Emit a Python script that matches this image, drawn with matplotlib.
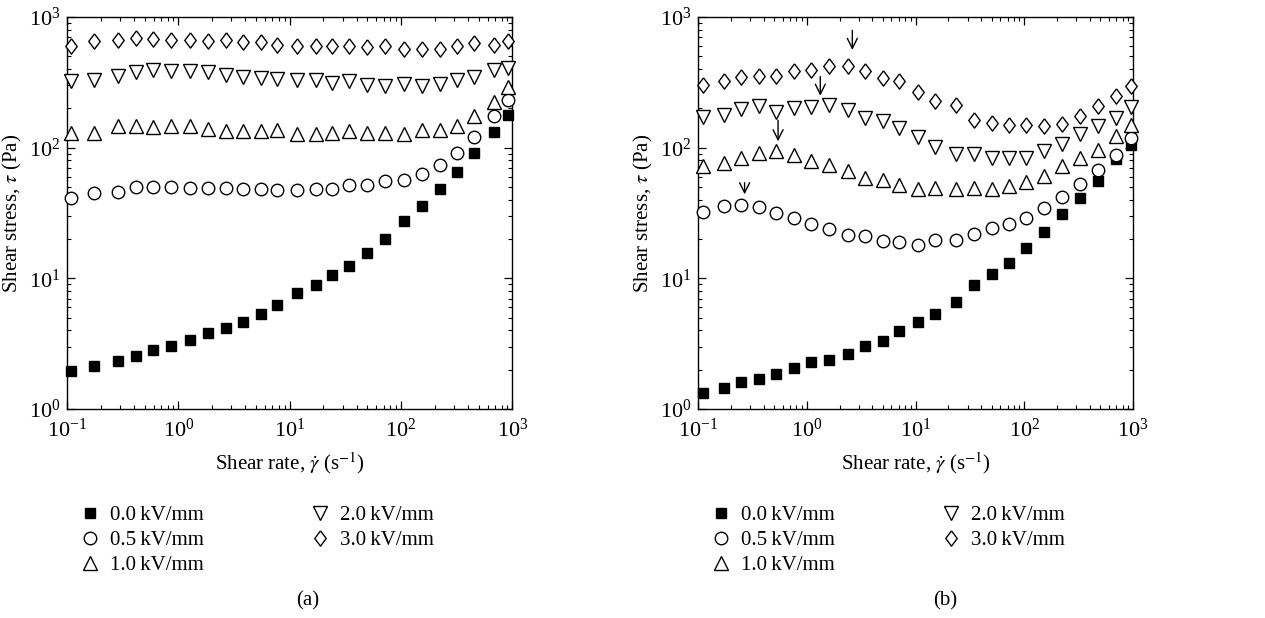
import numpy as np
import matplotlib
matplotlib.use("Agg")
import matplotlib.pyplot as plt

plt.rcParams['font.family'] = ['Liberation Serif', 'DejaVu Serif']
plt.rcParams['mathtext.fontset'] = 'stix'

labels = ['0.0\u2009kV/mm', '0.5\u2009kV/mm', '1.0\u2009kV/mm', '2.0\u2009kV/mm', '3.0\u2009kV/mm']

# panel (a)
rate_a = [0.109, 0.174, 0.285, 0.417, 0.589, 0.855, 1.27, 1.84, 2.67, 3.82, 5.58, 7.73,
          11.7, 17.1, 24.1, 34.0, 49.1, 71.2, 106, 155, 222, 316, 455, 684, 914]
a_00 = [1.97, 2.15, 2.34, 2.56, 2.84, 3.02, 3.35, 3.82, 4.17, 4.61, 5.33, 6.21,
        7.72, 8.95, 10.6, 12.4, 15.6, 20.1, 27.3, 36.0, 48.3, 65.2, 91.0, 132, 178]
a_05 = [40.9, 45.0, 45.5, 49.7, 49.7, 49.7, 49.1, 49.1, 49.1, 48.3, 48.3, 47.1,
        47.1, 48.6, 48.3, 51.5, 51.5, 55.9, 56.9, 63.2, 73.3, 91.0, 121, 174, 230]
a_10 = [129, 129, 146, 146, 143, 146, 146, 139, 135, 135, 135, 137,
        127, 127, 129, 135, 129, 129, 127, 137, 137, 147, 174, 222, 291]
a_20 = [326, 331, 355, 377, 391, 384, 384, 377, 362, 348, 341, 337,
        331, 331, 313, 326, 303, 295, 309, 295, 309, 331, 348, 395, 407]
a_30 = [604, 651, 671, 691, 683, 671, 671, 659, 663, 640, 640, 614,
        597, 597, 597, 597, 589, 597, 569, 569, 569, 597, 630, 614, 651]

# panel (b)
rate_b = [0.111, 0.175, 0.250, 0.365, 0.525, 0.765, 1.10, 1.60, 2.40, 3.43, 5.0, 7.1,
          10.5, 15.2, 23.6, 34.2, 50.0, 72.5, 103, 152, 220, 322, 470, 690, 945]
b_00 = [1.33, 1.45, 1.60, 1.70, 1.86, 2.08, 2.30, 2.36, 2.65, 3.02, 3.33, 3.93,
        4.63, 5.33, 6.59, 8.84, 10.9, 13.1, 17.1, 22.6, 31.1, 41.2, 55.9, 81.9, 104]
b_05 = [32.4, 35.6, 36.2, 34.9, 31.6, 28.9, 26.1, 23.9, 21.6, 21.2, 19.2, 18.9,
        18.1, 19.8, 19.5, 22.0, 24.1, 26.2, 28.9, 34.5, 41.9, 52.7, 67.9, 88.4, 119]
b_10 = [72.0, 76.3, 83.4, 91.0, 93.8, 88.4, 78.6, 73.3, 65.9, 58.6, 56.9, 51.8,
        48.3, 48.8, 48.3, 49.1, 48.6, 50.6, 54.3, 60.3, 72.0, 83.4, 96.5, 122, 150]
b_20 = [172, 179, 198, 210, 186, 201, 204, 212, 193, 169, 159, 142,
        121, 102, 90, 90, 83.4, 83.4, 83.4, 93.8, 107, 127, 146, 169, 205]
b_30 = [303, 326, 345, 352, 352, 388, 395, 419, 419, 388, 339, 322,
        265, 226, 211, 164, 154, 148, 148, 146, 153, 176, 207, 247, 298]

# arrows in (b): x, y of tip, y of tail
arrow_x = [2.62, 1.33, 0.544, 0.268]
arrow_tip = [560, 250, 112, 44]
arrow_tail = [790, 350, 162, 54]

diamond = [(0, 1), (0.75, 0), (0, -1), (-0.75, 0), (0, 1)]
styles = [dict(marker='s', ms=7.5, mfc='black', mec='black'),
          dict(marker='o', ms=9, mfc='white', mec='black'),
          dict(marker='^', ms=10, mfc='white', mec='black'),
          dict(marker='v', ms=10, mfc='white', mec='black'),
          dict(marker=diamond, ms=11, mfc='white', mec='black')]

fig = plt.figure(figsize=(12.65, 6.18), dpi=100)
ax1 = fig.add_axes([0.053, 0.338, 0.352, 0.6345])
ax2 = fig.add_axes([0.5518, 0.338, 0.344, 0.6345])

panels = [(ax1, rate_a, [a_00, a_05, a_10, a_20, a_30]),
          (ax2, rate_b, [b_00, b_05, b_10, b_20, b_30])]

for ax, x, series in panels:
    for y, st, lab in zip(series, styles, labels):
        ax.plot(x, y, linestyle='none', mew=1.0, label=lab, clip_on=False, zorder=3, **st)
    ax.set_xscale('log')
    ax.set_yscale('log')
    ax.set_xlim(0.1, 1000)
    ax.set_ylim(1, 1000)
    ax.tick_params(which='both', direction='in', top=True, right=True, labelsize=16)
    ax.tick_params(axis='x', pad=7)
    ax.tick_params(axis='y', pad=5)
    ax.tick_params(which='major', length=6, width=0.9)
    ax.tick_params(which='minor', length=3, width=0.8)
    for sp in ax.spines.values():
        sp.set_linewidth(1.0)
    ax.set_xlabel('Shear rate, $\\dot{\\gamma}$ (s$^{-1}$)', fontsize=15, labelpad=6)
    ax.set_ylabel('Shear stress, $\\tau$ (Pa)', fontsize=15, labelpad=3)
    ax.legend(loc='upper left', bbox_to_anchor=(0.005, -0.225), ncol=2, frameon=False,
              fontsize=15, handletextpad=0.35, labelspacing=0.26, columnspacing=5.0,
              handlelength=1.2, borderaxespad=0)

for xa, yt, yl in zip(arrow_x, arrow_tip, arrow_tail):
    ax2.annotate('', xy=(xa, yt), xytext=(xa, yl),
                 arrowprops=dict(arrowstyle='->', color='black', lw=1.0,
                                 shrinkA=0, shrinkB=0, mutation_scale=18))

fig.text(0.2435, 0.021, '(a)', fontsize=15, ha='center')
fig.text(0.747, 0.021, '(b)', fontsize=15, ha='center')

fig.savefig('out.png', dpi=100)
